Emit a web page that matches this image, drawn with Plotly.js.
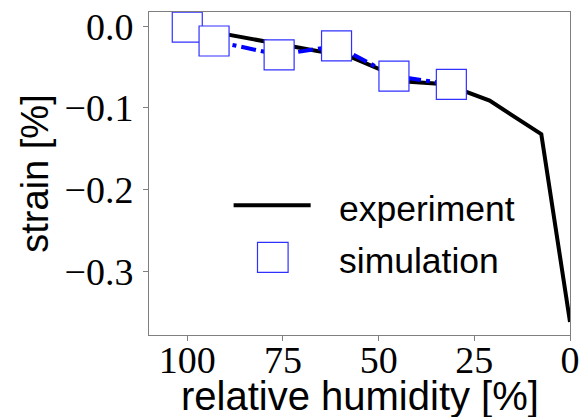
<!DOCTYPE html>
<html>
<head>
<meta charset="utf-8">
<script src="https://cdn.plot.ly/plotly-3.0.1.min.js"></script>
<style>
html,body{margin:0;padding:0;background:#fff;}
#chart{width:586px;height:417px;}
</style>
</head>
<body>
<div id="chart"></div>
<script>
// Experiment (black solid line)
const rhExperiment = [100, 57, 42, 32.4, 21, 7.5, 0];
const strainExperiment = [-0.001, -0.038, -0.068, -0.071, -0.091, -0.132, -0.362];
// Simulation (blue squares joined by dash-dot line)
const rhSimulation = [100, 93, 76, 61, 46, 31];
const strainSimulation = [-0.001, -0.018, -0.035, -0.024, -0.061, -0.071];
// Tick labels
const xTickValues = [100, 75, 50, 25, 0];
const yTickValues = [0.0, -0.1, -0.2, -0.3];
const legendLabels = ['experiment', 'simulation'];
const xTitle = 'relative humidity [%]';
const yTitle = 'strain [%]';

const serif = 'Liberation Serif, DejaVu Serif, serif';
const sans = 'Liberation Sans, Arial, sans-serif';

const traces = [
  {x: rhExperiment, y: strainExperiment, mode: 'lines', name: legendLabels[0],
   line: {color: '#000000', width: 4}, showlegend: false, hoverinfo: 'skip'},
  {x: rhSimulation, y: strainSimulation, mode: 'lines', showlegend: false,
   line: {color: '#0000ff', width: 4, dash: '15px,5px,4px,5px'}, hoverinfo: 'skip'},
  {x: rhSimulation, y: strainSimulation, mode: 'markers', name: legendLabels[1], showlegend: false,
   marker: {symbol: 'square', size: 30, color: '#ffffff', line: {color: '#3030ff', width: 1.2}}, hoverinfo: 'skip'}
];

const layout = {
  width: 586, height: 417,
  margin: {l: 149, r: 16, t: 12, b: 82, pad: 0},
  paper_bgcolor: '#ffffff', plot_bgcolor: '#ffffff',
  showlegend: false,
  xaxis: {
    range: [110, 0], tickvals: xTickValues, ticktext: xTickValues.map(String),
    showgrid: false, zeroline: false, showline: true, mirror: true, linecolor: '#7f7f7f', linewidth: 1,
    ticks: 'outside', ticklen: 5, tickcolor: '#7f7f7f', tickwidth: 1, ticklabelstandoff: -14,
    tickfont: {family: serif, size: 38, color: '#000'}
  },
  yaxis: {
    range: [-0.378, 0.0175], tickvals: yTickValues, tickformat: '.1f',
    showgrid: false, zeroline: false, showline: true, mirror: true, linecolor: '#7f7f7f', linewidth: 1,
    ticks: 'outside', ticklen: 5, tickcolor: '#7f7f7f', tickwidth: 1, ticklabelstandoff: 2,
    tickfont: {family: serif, size: 38, color: '#000'},
    title: {text: yTitle, font: {family: sans, size: 38, color: '#000'}, standoff: 4}
  },
  shapes: [
    {type: 'line', xref: 'paper', yref: 'paper', x0: 0.201, x1: 0.384, y0: 0.402, y1: 0.402,
     line: {color: '#000000', width: 4}},
    {type: 'rect', xref: 'paper', yref: 'paper', x0: 0.2577, x1: 0.3304, y0: 0.194, y1: 0.2867,
     fillcolor: '#ffffff', line: {color: '#3030ff', width: 1.2}}
  ],
  annotations: [
    {text: xTitle, xref: 'paper', yref: 'paper', x: 0.5, y: -0.188, xanchor: 'center', yanchor: 'middle',
     showarrow: false, font: {family: sans, size: 40, color: '#000'}},
    {text: legendLabels[0], xref: 'paper', yref: 'paper', x: 0.446, y: 0.39, xanchor: 'left', yanchor: 'middle',
     showarrow: false, font: {family: sans, size: 35.5, color: '#000'}},
    {text: legendLabels[1], xref: 'paper', yref: 'paper', x: 0.446, y: 0.23, xanchor: 'left', yanchor: 'middle',
     showarrow: false, font: {family: sans, size: 35.5, color: '#000'}}
  ]
};

Plotly.newPlot('chart', traces, layout, {displayModeBar: false, staticPlot: true});
</script>
</body>
</html>
